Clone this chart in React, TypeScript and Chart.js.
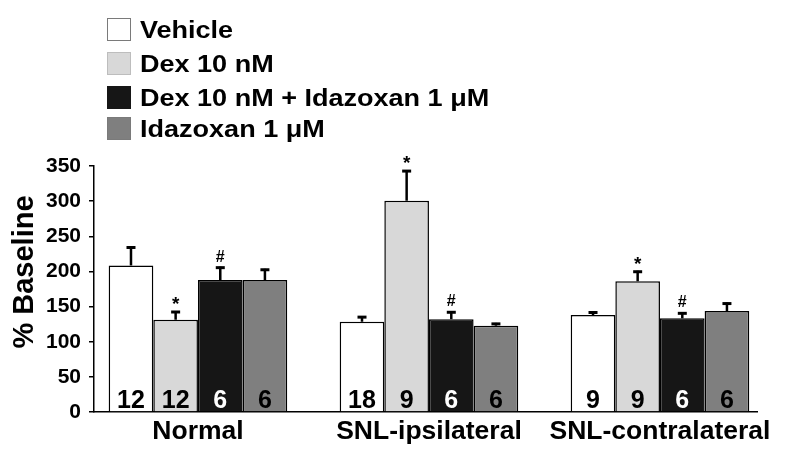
import React, { useEffect, useRef } from "react";
import { Chart, registerables } from "chart.js";

Chart.register(...registerables);

const categories = ["Normal", "SNL-ipsilateral", "SNL-contralateral"];
const seriesNames = ["Vehicle", "Dex 10 nM", "Dex 10 nM + Idazoxan 1 μM", "Idazoxan 1 μM"];
const vehicle = [208.5, 128.4, 138];
const vehicleErr = [27, 8, 5];
const dex = [131.3, 300.6, 186];
const dexErr = [12.4, 43.6, 15];
const dexIda = [187.8, 132, 133.3];
const dexIdaErr = [19, 11.3, 8.5];
const ida = [187.8, 122.8, 143.7];
const idaErr = [16, 4, 12];
const nVehicle = ["12", "18", "9"];
const nDex = ["12", "9", "9"];
const nDexIda = ["6", "6", "6"];
const nIda = ["6", "6", "6"];
const markDex = ["*", "*", "*"];
const markDexIda = ["#", "#", "#"];
const yTicksMax = 350;
const yStep = 50;

const FONT = "'Liberation Sans', Arial, sans-serif";
const fills = ["#ffffff", "#d8d8d8", "#161616", "#7f7f7f"];
const legendBorders = ["#7a7a7a", "#bdbdbd", "#161616", "#7a7a7a"];
const nColors = ["#000", "#000", "#fff", "#000"];

const values = [vehicle, dex, dexIda, ida];
const errors = [vehicleErr, dexErr, dexIdaErr, idaErr];
const nLabels = [nVehicle, nDex, nDexIda, nIda];
const marks: (string[] | null)[] = [null, markDex, markDexIda, null];

const overlayPlugin = {
  id: "overlay",
  afterDatasetsDraw(chart: any) {
    const ctx = chart.ctx;
    const yScale = chart.scales.y;
    ctx.save();
    values.forEach((vals, di) => {
      const meta = chart.getDatasetMeta(di);
      meta.data.forEach((bar: any, i: number) => {
        const x = bar.x;
        const yTop = yScale.getPixelForValue(vals[i]);
        const yErr = yScale.getPixelForValue(vals[i] + errors[di][i]);
        // error bar
        ctx.strokeStyle = "#000";
        ctx.lineWidth = 2.5;
        ctx.beginPath();
        ctx.moveTo(x, yTop);
        ctx.lineTo(x, yErr);
        ctx.stroke();
        ctx.lineWidth = 3;
        ctx.beginPath();
        ctx.moveTo(x - 4.5, yErr + 1);
        ctx.lineTo(x + 4.5, yErr + 1);
        ctx.stroke();
        // significance marks
        const m = marks[di];
        if (m) {
          ctx.fillStyle = "#000";
          ctx.textAlign = "center";
          ctx.textBaseline = "alphabetic";
          if (m[i] === "*") {
            ctx.font = `bold 19px ${FONT}`;
            ctx.fillText(m[i], x, yErr - 1);
          } else {
            ctx.font = `bold 16px ${FONT}`;
            ctx.fillText(m[i], x, yErr - 5);
          }
        }
        // n labels
        ctx.fillStyle = nColors[di];
        ctx.font = `bold 25px ${FONT}`;
        ctx.textAlign = "center";
        ctx.textBaseline = "alphabetic";
        ctx.fillText(nLabels[di][i], x, 408);
      });
    });
    ctx.restore();
  },
  afterDraw(chart: any) {
    const ctx = chart.ctx;
    ctx.save();
    // legend
    const rowsY = [18, 52, 86, 117];
    seriesNames.forEach((name, i) => {
      const y = rowsY[i];
      ctx.fillStyle = fills[i];
      ctx.fillRect(107.5, y + 0.5, 23, 22);
      ctx.strokeStyle = legendBorders[i];
      ctx.lineWidth = 1;
      ctx.strokeRect(107.5, y + 0.5, 23, 22);
      ctx.save();
      ctx.translate(140, y + 20);
      ctx.scale(1.15, 1);
      ctx.fillStyle = "#000";
      ctx.font = `bold 23.5px ${FONT}`;
      ctx.textAlign = "left";
      ctx.textBaseline = "alphabetic";
      ctx.fillText(name, 0, 0);
      ctx.restore();
    });
    // y axis title
    ctx.translate(33, 272);
    ctx.rotate(-Math.PI / 2);
    ctx.font = `bold 29px ${FONT}`;
    ctx.textAlign = "center";
    ctx.textBaseline = "alphabetic";
    ctx.fillStyle = "#000";
    ctx.fillText("% Baseline", 0, 0);
    ctx.restore();
  },
};

export default function App() {
  const ref = useRef<HTMLCanvasElement | null>(null);
  useEffect(() => {
    if (!ref.current) return;
    const chart = new Chart(ref.current, {
      type: "bar",
      data: {
        datasets: values.map((vals, di) => ({
          label: seriesNames[di],
          data: vals.map((v, i) => ({ x: i, y: v })),
          backgroundColor: fills[di],
          borderColor: "#000",
          borderWidth: 1.5,
          categoryPercentage: 0.773,
          barPercentage: 1,
        })),
      },
      options: {
        animation: false,
        responsive: false,
        maintainAspectRatio: false,
        events: [],
        layout: { padding: { left: 0, top: 166, right: 43, bottom: 0 } },
        plugins: { legend: { display: false }, tooltip: { enabled: false } },
        scales: {
          x: {
            type: "linear",
            offset: false,
            min: -0.45,
            max: 2.42,
            afterFit: (s: any) => {
              s.height = 41;
            },
            ticks: {
              stepSize: 1,
              includeBounds: false,
              autoSkip: false,
              maxRotation: 0,
              padding: 4,
              color: "#000",
              font: { family: FONT, size: 26.5, weight: "bold" },
              callback: (v: any) => categories[v as number] ?? "",
            },
            grid: { display: true, offset: false, drawOnChartArea: false, drawTicks: false },
            border: { display: true, color: "#000", width: 1.5 },
          },
          y: {
            min: 0,
            max: yTicksMax,
            afterFit: (s: any) => {
              s.width = 94;
            },
            ticks: {
              stepSize: yStep,
              padding: 8,
              color: "#000",
              font: { family: FONT, size: 21, weight: "bold" },
            },
            grid: {
              display: true,
              drawOnChartArea: false,
              drawTicks: true,
              tickLength: 5,
              color: "#000",
              lineWidth: 1.5,
            },
            border: { display: true, color: "#000", width: 1.5 },
          },
        },
      },
      plugins: [overlayPlugin],
    });
    return () => chart.destroy();
  }, []);
  return (
    <div style={{ position: "absolute", left: 0, top: 0, width: 800, height: 453, background: "#fff" }}>
      <canvas ref={ref} width={800} height={453} style={{ width: 800, height: 453, display: "block" }} />
    </div>
  );
}
